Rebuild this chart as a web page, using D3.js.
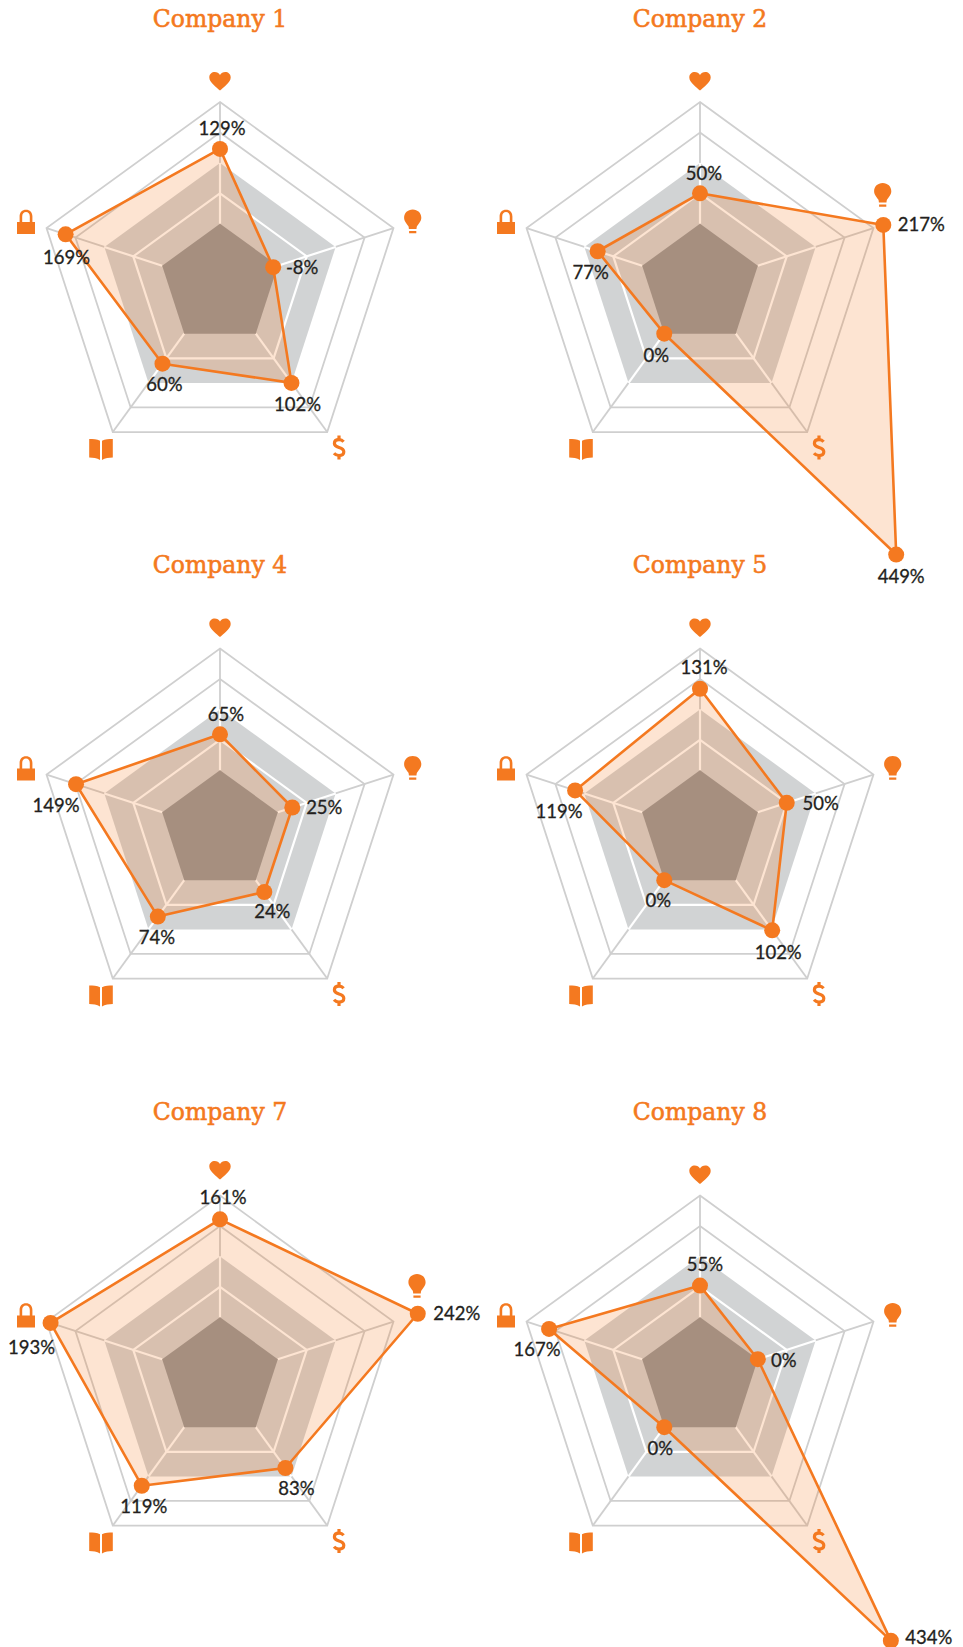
<!DOCTYPE html>
<html><head><meta charset="utf-8">
<script src="https://cdn.jsdelivr.net/npm/d3@7"></script>
<style>html,body{margin:0;padding:0;background:#fff}svg{display:block}</style>
</head><body><div id="chart"></div>
<script>
const companies = ["Company 1","Company 2","Company 4","Company 5","Company 7","Company 8"];
const axes = ["heart","bulb","dollar","book","lock"];
// values printed beside the dots
const labels1 = [129,-8,102,60,169];
const labels2 = [50,217,449,0,77];
const labels4 = [65,25,24,74,149];
const labels5 = [131,50,102,0,119];
const labels7 = [161,242,83,119,193];
const labels8 = [55,0,434,0,167];
const plotted1 = [123,-8,100,61,167];
const plotted2 = [50,217,449,0,77];
const plotted4 = [59,25,24,74,149];
const plotted5 = [134,50,102,0,116];
const plotted7 = [161,242,83,119,193];
const plotted8 = [52,0,434,0,161];
const rings = [0,50,100,150,200];

const allPlotted = [plotted1,plotted2,plotted4,plotted5,plotted7,plotted8];
const allLabels = [labels1,labels2,labels4,labels5,labels7,labels8];
const W=963,H=1647,R=182.4;
const colX=[220,700], rowY=[284.5,831,1378];
const ORANGE="#f47920", INK="#231f20", GRID="#cfcfcf", BAND="#d1d3d4", CORE="#939598";

// label offsets from each dot, per chart and axis
const labelOffsets=[
 [[2,-20],[29,0],[6,22],[2,21],[1,23]],
 [[4,-20],[38,0],[5,22],[-8,22],[-7,21]],
 [[6,-20],[32,0],[8,20],[-1,21],[-20,21]],
 [[4,-21],[34,1],[6,22],[-6,21],[-16,21]],
 [[3,-22],[39,0],[11,21],[2,21],[-19,25]],
 [[5,-21],[26,1],[38,-2.5],[-4,22],[-12,21]]
];
// icon anchors relative to the chart centre
const iconPos={heart:[0,-203.5],bulb:[192.7,-63],dollar:[119,163],book:[-119,164.5],lock:[-194,-62.5]};
const iconShift={ "1|bulb":[-10,-26.5], "4|bulb":[4.3,-29], "4|heart":[0,-4.5] };

const iconPaths={
 heart:"M0,9.5 C-3,6.5 -10.7,1.5 -10.7,-3.6 C-10.7,-7 -8,-9 -5.3,-9 C-3,-9 -1,-7.8 0,-6 C1,-7.8 3,-9 5.3,-9 C8,-9 10.7,-7 10.7,-3.6 C10.7,1.5 3,6.5 0,9.5Z",
 bulb:"M0,-12 C5,-12 8.6,-8.4 8.6,-3.8 C8.6,-0.2 6,1.8 4.4,4.6 C4,5.4 3.9,6 3.8,7.4 L-3.8,7.4 C-3.9,6 -4,5.4 -4.4,4.6 C-6,1.8 -8.6,-0.2 -8.6,-3.8 C-8.6,-8.4 -5,-12 0,-12Z M-3.6,9.6 L3.6,9.6 L3.6,11.8 L-3.6,11.8Z",
 book:"M-1,-8.2 L-1,11 C-4,9.4 -8,8.6 -11.8,8.6 L-11.8,-10 C-8,-10 -4,-9.8 -1,-8.2Z M1,-8.2 C4,-9.8 8,-10 11.8,-10 L11.8,8.6 C8,8.6 4,9.4 1,11Z",
 lock:"M-9,0 L-6.4,0 L-6.4,-5.6 C-6.4,-9.6 -3.8,-12.2 0,-12.2 C3.8,-12.2 6.4,-9.6 6.4,-5.6 L6.4,0 L9,0 L9,12 L-9,12Z M-3.8,0 L3.8,0 L3.8,-5.6 C3.8,-8 2.2,-9.9 0,-9.9 C-2.2,-9.9 -3.8,-8 -3.8,-5.6Z"
};
const dollarS="M4.6,-5.8 C3.4,-7.2 1.9,-7.8 0,-7.8 C-2.9,-7.8 -4.6,-6.2 -4.6,-4 C-4.6,-1.6 -2.6,-0.8 0,0 C2.6,0.8 4.8,1.8 4.8,4.2 C4.8,6.5 2.9,8 0,8 C-2,8 -3.8,7.2 -5,5.8";

const r=d3.scaleLinear().domain([0,100]).range([R/3,2*R/3]);
const angle=d3.scalePoint().domain(axes).range([0,2*Math.PI*4/5]);
const radial=d3.lineRadial().angle(d=>angle(d.axis)).radius(d=>r(d.value)).curve(d3.curveLinearClosed);
const ringData=v=>axes.map(a=>({axis:a,value:v}));

const svg=d3.select("#chart").append("svg").attr("width",W).attr("height",H).attr("viewBox",`0 0 ${W} ${H}`);

companies.forEach((name,ci)=>{
  const cx=colX[ci%2], cy=rowY[Math.floor(ci/2)], vals=allPlotted[ci], labs=allLabels[ci];
  const g=svg.append("g").attr("class","radar").attr("transform",`translate(${cx},${cy})`);

  const spoke=(a,from,to)=>{
    const p=d3.pointRadial(angle(a),r(from)), q=d3.pointRadial(angle(a),r(to));
    return {x1:p[0],y1:p[1],x2:q[0],y2:q[1]};
  };
  const spokes=(from,to,color,w)=>g.append("g").selectAll("line").data(axes).join("line")
    .each(function(a){const s=spoke(a,from,to);d3.select(this).attr("x1",s.x1).attr("y1",s.y1).attr("x2",s.x2).attr("y2",s.y2);})
    .attr("stroke",color).attr("stroke-width",w);

  [200,150].forEach(v=>g.append("path").attr("d",radial(ringData(v))).attr("fill","none").attr("stroke",GRID).attr("stroke-width",1.8));
  spokes(100,200,GRID,1.8);
  g.append("path").attr("d",radial(ringData(100))).attr("fill",BAND);
  g.append("path").attr("d",radial(ringData(50))).attr("fill","none").attr("stroke","#fff").attr("stroke-width",2.2);
  spokes(0,100,"#fff",2.2);
  g.append("path").attr("d",radial(ringData(0))).attr("fill",CORE);

  const pts=axes.map((a,i)=>({axis:a,value:vals[i],label:labs[i],i}));
  g.append("path").attr("d",radial(pts)).attr("fill",ORANGE).attr("fill-opacity",0.2)
    .attr("stroke",ORANGE).attr("stroke-width",2.6).attr("stroke-linejoin","round");
  const xy=d=>d3.pointRadial(angle(d.axis),r(d.value));
  g.append("g").selectAll("circle").data(pts).join("circle")
    .attr("cx",d=>xy(d)[0]).attr("cy",d=>xy(d)[1]).attr("r",8).attr("fill",ORANGE);
  g.append("g").selectAll("text").data(pts).join("text")
    .attr("x",d=>xy(d)[0]+labelOffsets[ci][d.i][0]).attr("y",d=>xy(d)[1]+labelOffsets[ci][d.i][1]+6.3)
    .attr("text-anchor","middle").attr("font-family","Lato, sans-serif").attr("font-size",18.5)
    .attr("stroke",INK).attr("stroke-width",0.3)
    .attr("fill",INK).text(d=>d.label+"%");

  axes.forEach(a=>{
    const s=iconShift[ci+"|"+a]||[0,0], p=iconPos[a];
    const ig=g.append("g").attr("transform",`translate(${p[0]+s[0]},${p[1]+s[1]})`);
    if(a==="dollar"){
      ig.append("path").attr("d",dollarS).attr("fill","none").attr("stroke",ORANGE).attr("stroke-width",3.2);
      ig.append("path").attr("d","M0,-12 V-7 M0,7 V12").attr("stroke",ORANGE).attr("stroke-width",3.2);
    } else {
      ig.append("path").attr("d",iconPaths[a]).attr("fill",ORANGE).attr("fill-rule","evenodd");
    }
  });

  g.append("text").attr("x",0).attr("y",-258).attr("text-anchor","middle")
    .attr("font-family","'DejaVu Serif', serif").attr("font-size",23.5)
    .attr("stroke",ORANGE).attr("stroke-width",0.55).attr("fill",ORANGE).text(name);
});
</script></body></html>
